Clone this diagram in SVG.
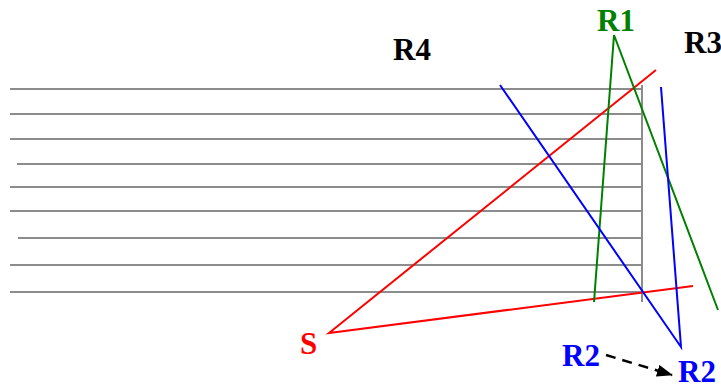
<svg xmlns="http://www.w3.org/2000/svg" width="721" height="385" viewBox="0 0 721 385">
<defs>
<style>
.shelf{stroke:#8c8c8c;stroke-width:2;fill:none}
.lbl{font-family:'Liberation Serif','Times New Roman',Times,serif;font-weight:700;font-size:31px}
.ray{fill:none;stroke-width:2}
</style>
<marker id="ah" markerWidth="16" markerHeight="12" refX="15" refY="6" orient="auto" markerUnits="userSpaceOnUse">
<path d="M0,0 L16,6 L0,12 Z" fill="#000"/>
</marker>
</defs>
<rect width="721" height="385" fill="#fff"/>
<g id="wall">
<line class="shelf" x1="10" y1="89" x2="642" y2="89"/>
<line class="shelf" x1="10" y1="114" x2="642" y2="114"/>
<line class="shelf" x1="10" y1="139" x2="642" y2="139"/>
<line class="shelf" x1="17" y1="164" x2="642" y2="164"/>
<line class="shelf" x1="10" y1="187" x2="642" y2="187"/>
<line class="shelf" x1="10" y1="211" x2="642" y2="211"/>
<line class="shelf" x1="18" y1="238" x2="642" y2="238"/>
<line class="shelf" x1="10" y1="265" x2="642" y2="265"/>
<line class="shelf" x1="10" y1="292" x2="642" y2="292"/>
<line class="shelf" x1="642" y1="85" x2="642" y2="302"/>
</g>
<g id="connectors">
<polyline class="ray" stroke="#ff0000" points="656,70 329,333 693,286"/>
<polyline class="ray" stroke="#008000" points="594,302 614,35 718,310"/>
<polyline class="ray" stroke="#0000ff" points="500,85 681,347 661,87"/>
<line x1="606" y1="355" x2="672" y2="375" stroke="#000" stroke-width="2.5" stroke-dasharray="10,7" marker-end="url(#ah)"/>
</g>
<g id="S"><text class="lbl" x="300" y="354" fill="#ff0000">S</text></g>
<g id="R1"><text class="lbl" x="597" y="31" fill="#008000">R1</text></g>
<g id="R3"><text class="lbl" x="684" y="53" fill="#000">R3</text></g>
<g id="R4"><text class="lbl" x="393" y="60" fill="#000">R4</text></g>
<g id="R2a"><text class="lbl" x="562" y="366" fill="#0000ff">R2</text></g>
<g id="R2b"><text class="lbl" x="678" y="382" fill="#0000ff">R2</text></g>
</svg>
